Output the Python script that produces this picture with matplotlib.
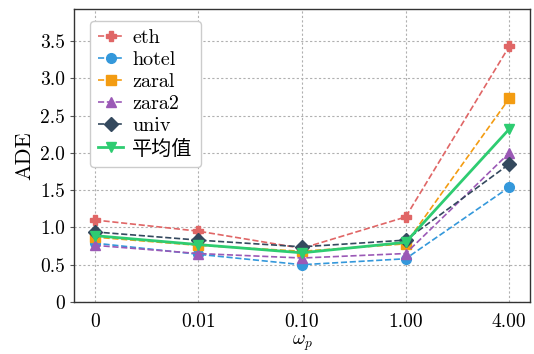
import matplotlib
matplotlib.use("Agg")
import matplotlib.pyplot as plt

plt.rcParams['font.family'] = ['cmr10', 'Noto Sans CJK SC', 'DejaVu Sans']
plt.rcParams['mathtext.fontset'] = 'cm'
plt.rcParams['axes.unicode_minus'] = False
plt.rcParams['axes.formatter.use_mathtext'] = True

x_labels = ["0", "0.01", "0.10", "1.00", "4.00"]
y_ticks = [0, 0.5, 1.0, 1.5, 2.0, 2.5, 3.0, 3.5]
y_ticklabels = ["0", "0.5", "1.0", "1.5", "2.0", "2.5", "3.0", "3.5"]

eth = [1.10, 0.95, 0.72, 1.14, 3.43]
hotel = [0.79, 0.64, 0.50, 0.58, 1.54]
zaral = [0.87, 0.76, 0.68, 0.78, 2.73]
zara2 = [0.76, 0.65, 0.59, 0.65, 2.00]
univ = [0.94, 0.83, 0.74, 0.83, 1.85]
mean = [0.89, 0.77, 0.66, 0.80, 2.32]

series = [
    ("eth", eth, "#e06666", "P", "--"),
    ("hotel", hotel, "#3498db", "o", "--"),
    ("zaral", zaral, "#f39c12", "s", "--"),
    ("zara2", zara2, "#9b59b6", "^", "--"),
    ("univ", univ, "#34495e", "D", "--"),
    ("平均值", mean, "#2ecc71", "v", "-"),
]

fig = plt.figure(figsize=(5.34, 3.54), dpi=100)
ax = fig.add_axes([0.1386, 0.1469, 0.8539, 0.8277])

xs = list(range(len(x_labels)))
for name, vals, color, mk, ls in series:
    lw = 2.0 if ls == "-" else 1.2
    ax.plot(xs, vals, linestyle=ls, color=color, marker=mk, markersize=7,
            linewidth=lw, label=name)

ax.set_xlim(-0.2, 4.2)
ax.set_ylim(0, 3.93)
ax.set_xticks(xs)
ax.set_xticklabels(x_labels, fontsize=14)
ax.set_yticks(y_ticks)
ax.set_yticklabels(y_ticklabels, fontsize=14)
ax.tick_params(axis='x', length=0, pad=8)
ax.tick_params(axis='y', length=3, width=0.8, color='#555555')
ax.grid(True, color='#b0b0b0', linestyle=(0, (2, 2)), linewidth=0.8)
ax.set_axisbelow(True)
for s in ax.spines.values():
    s.set_color('#333333')
    s.set_linewidth(1.0)

ax.set_xlabel(r"$\omega_p$", fontsize=14, labelpad=2)
ax.set_ylabel("ADE", fontsize=16)

leg = ax.legend(loc='upper left', bbox_to_anchor=(0.035, 0.96), borderaxespad=0,
                fontsize=14.5, handlelength=1.25, labelspacing=0.2,
                handletextpad=0.45, borderpad=0.4,
                frameon=True, fancybox=True, framealpha=1.0)
leg.get_frame().set_edgecolor('#cccccc')

fig.savefig("out.png", dpi=100)
